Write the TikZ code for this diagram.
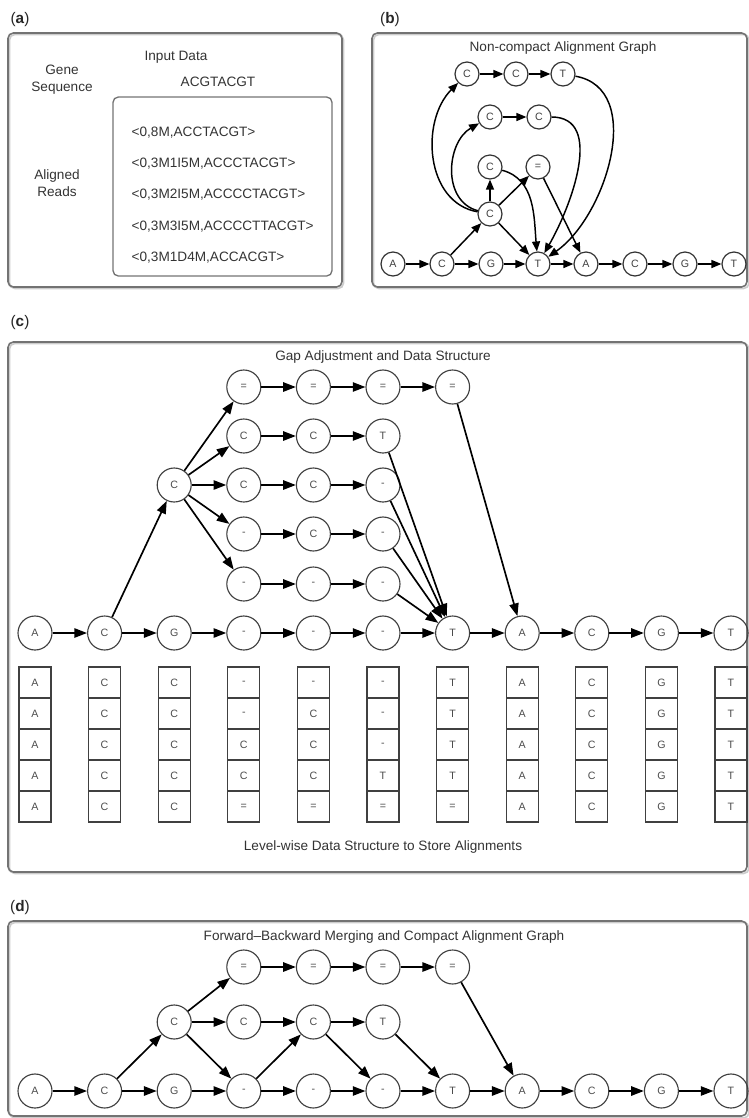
\documentclass[tikz,border=0pt]{standalone}
\usepackage{fontspec}
\setmainfont{Liberation Sans}
\usetikzlibrary{arrows.meta}
\begin{document}
\begin{tikzpicture}[x=0.75pt,y=0.75pt,
  panel/.style={draw=black!55, line width=1.2pt, rounded corners=4pt},
  shadowp/.style={draw=black!20, line width=1.2pt, rounded corners=4pt},
  plabel/.style={font=\fontsize{11.5}{13}\selectfont, text=black!85},
  title/.style={font=\fontsize{10.2}{12.75}\selectfont, text=black!80},
  bn/.style={circle, draw=black!80, line width=0.9pt, minimum size=18pt, inner sep=0pt, font=\fontsize{8}{9}\selectfont, text=black!75},
  cn/.style={circle, draw=black!75, line width=0.85pt, minimum size=25.5pt, inner sep=0pt, font=\fontsize{8}{9}\selectfont, text=black!70},
  cell/.style={rectangle, draw=black!75, line width=0.85pt, minimum width=24pt, minimum height=23.25pt, inner sep=0pt, font=\fontsize{8}{9}\selectfont, text=black!70},
  barr/.style={-{Triangle[length=7.5pt,width=6pt]}, line width=1.1pt},
  carr/.style={-{Triangle[length=9.5pt,width=7pt]}, line width=1.25pt}
]
\useasboundingbox (0,0) rectangle (749,-1118);

% ---------------- (a) ----------------
\node[plabel] (la) at (20,-20) {(\textbf{a})};
\draw[shadowp] (9.5,-34.5) rectangle (343.5,-288.5);
\draw[panel] (8,-33) rectangle (342,-287);
\node[title] (ta) at (176,-57) {Input Data};
\node[title, align=center] (gs) at (62,-80) {Gene\\Sequence};
\node[title] (seq) at (218,-82) {ACGTACGT};
\draw[panel, line width=1pt] (113,-97) rectangle (332,-276);
\node[title, align=center] (ar) at (57,-183) {Aligned\\Reads};
\node[title, anchor=west] (r1) at (127,-133) {<0,8M,ACCTACGT>};
\node[title, anchor=west] (r2) at (127,-164) {<0,3M1I5M,ACCCTACGT>};
\node[title, anchor=west] (r3) at (127,-195) {<0,3M2I5M,ACCCCTACGT>};
\node[title, anchor=west] (r4) at (127,-227) {<0,3M3I5M,ACCCCTTACGT>};
\node[title, anchor=west] (r5) at (127,-258) {<0,3M1D4M,ACCACGT>};

% ---------------- (b) ----------------
\node[plabel] (lb) at (390,-20) {(\textbf{b})};
\draw[shadowp] (373.5,-34.5) rectangle (749,-288.5);
\draw[panel] (372,-33) rectangle (747,-287);
\node[title] (tb) at (563,-48) {Non-compact Alignment Graph};
\node[bn] (bA1) at (393,-264) {A};
\node[bn] (bC1) at (442,-264) {C};
\node[bn] (bG1) at (491,-264) {G};
\node[bn] (bT1) at (538,-264) {T};
\node[bn] (bA2) at (586,-264) {A};
\node[bn] (bC2) at (635,-264) {C};
\node[bn] (bG2) at (685,-264) {G};
\node[bn] (bT2) at (734,-264) {T};
\node[bn] (bCm) at (490,-214) {C};
\node[bn] (bCa) at (490,-167) {C};
\node[bn] (bEq) at (538,-167) {=};
\node[bn] (bCb1) at (490,-117) {C};
\node[bn] (bCb2) at (539,-117) {C};
\node[bn] (bCc1) at (467,-74) {C};
\node[bn] (bCc2) at (516,-74) {C};
\node[bn] (bTc) at (563,-74) {T};
\foreach \a/\b in {bA1/bC1,bC1/bG1,bG1/bT1,bT1/bA2,bA2/bC2,bC2/bG2,bG2/bT2,
  bC1/bCm,bCm/bCa,bCm/bEq,bCm/bT1,bEq/bA2,bCb1/bCb2,bCc1/bCc2,bCc2/bTc}
  \draw[barr] (\a) -- (\b);
\draw[barr] (bCm) to[out=165,in=-150,looseness=1.1] (bCb1);
\draw[barr] (bCm) to[out=170,in=-135,looseness=1.05] (bCc1);
\draw[barr] (bCa) to[out=-15,in=95,looseness=1.0] (bT1);
\draw[barr] (bCb2) to[out=0,in=60,looseness=1.0] (bT1);
\draw[barr] (bTc) to[out=-10,in=35,looseness=1.0] (bT1);

% ---------------- (c) ----------------
\node[plabel] (lc) at (20,-323) {(\textbf{c})};
\draw[shadowp] (9.5,-343.5) rectangle (749,-873.5);
\draw[panel] (8,-342) rectangle (747,-872);
\node[title] (tc) at (383,-357) {Gap Adjustment and Data Structure};
\node[title] (tc2) at (383,-847) {Level-wise Data Structure to Store Alignments};
\foreach \i/\l in {0/A,1/C,2/G,3/-,4/-,5/-,6/T,7/A,8/C,9/G,10/T}
  \node[cn] (c\i) at ({35+69.6*\i},-633) {\l};
\foreach \i/\j in {0/1,1/2,2/3,3/4,4/5,5/6,6/7,7/8,8/9,9/10}
  \draw[carr] (c\i) -- (c\j);
\node[cn] (cx) at (174.2,-485) {C};
% upper rows
\foreach \i/\l in {3/=,4/=,5/=,6/=} \node[cn] (ua\i) at ({35+69.6*\i},-387) {\l};
\foreach \i/\l in {3/C,4/C,5/T} \node[cn] (ub\i) at ({35+69.6*\i},-436) {\l};
\foreach \i/\l in {3/C,4/C,5/-} \node[cn] (uc\i) at ({35+69.6*\i},-485) {\l};
\foreach \i/\l in {3/-,4/C,5/-} \node[cn] (ud\i) at ({35+69.6*\i},-534) {\l};
\foreach \i/\l in {3/-,4/-,5/-} \node[cn] (ue\i) at ({35+69.6*\i},-584) {\l};
\foreach \a/\b in {ua3/ua4,ua4/ua5,ua5/ua6,ub3/ub4,ub4/ub5,uc3/uc4,uc4/uc5,
  ud3/ud4,ud4/ud5,ue3/ue4,ue4/ue5,
  c1/cx,cx/ua3,cx/ub3,cx/uc3,cx/ud3,cx/ue3,
  ub5/c6,uc5/c6,ud5/c6,ue5/c6,ua6/c7}
  \draw[carr] (\a) -- (\b);
% cells
\foreach \i/\la/\lb/\lc/\ld/\le in {0/A/A/A/A/A,1/C/C/C/C/C,2/C/C/C/C/C,3/-/-/C/C/=,
  4/-/C/C/C/=,5/-/-/-/T/=,6/T/T/T/T/=,7/A/A/A/A/A,8/C/C/C/C/C,9/G/G/G/G/G,10/T/T/T/T/T}{
  \node[cell] (k\i a) at ({35+69.6*\i},-682.5) {\la};
  \node[cell] (k\i b) at ({35+69.6*\i},-713.5) {\lb};
  \node[cell] (k\i c) at ({35+69.6*\i},-744.5) {\lc};
  \node[cell] (k\i d) at ({35+69.6*\i},-775.5) {\ld};
  \node[cell] (k\i e) at ({35+69.6*\i},-806.5) {\le};
}

% ---------------- (d) ----------------
\node[plabel] (ld) at (20,-908) {(\textbf{d})};
\draw[shadowp] (9.5,-922.5) rectangle (749,-1118);
\draw[panel] (8,-921) rectangle (747,-1116);
\node[title] (td) at (384,-937) {Forward--Backward Merging and Compact Alignment Graph};
\foreach \i/\l in {0/A,1/C,2/G,3/-,4/-,5/-,6/T,7/A,8/C,9/G,10/T}
  \node[cn] (d\i) at ({35+69.6*\i},-1091) {\l};
\foreach \i/\l in {3/=,4/=,5/=,6/=} \node[cn] (e\i) at ({35+69.6*\i},-967) {\l};
\node[cn] (m2) at (174.2,-1022) {C};
\node[cn] (m3) at (243.8,-1022) {C};
\node[cn] (m4) at (313.4,-1022) {C};
\node[cn] (m5) at (383,-1022) {T};
\foreach \a/\b in {d0/d1,d1/d2,d2/d3,d3/d4,d4/d5,d5/d6,d6/d7,d7/d8,d8/d9,d9/d10,
  d1/m2,m2/e3,m2/m3,m2/d3,d3/m4,m3/m4,m4/m5,m4/d5,m5/d6,e3/e4,e4/e5,e5/e6,e6/d7}
  \draw[carr] (\a) -- (\b);
\end{tikzpicture}
\end{document}
